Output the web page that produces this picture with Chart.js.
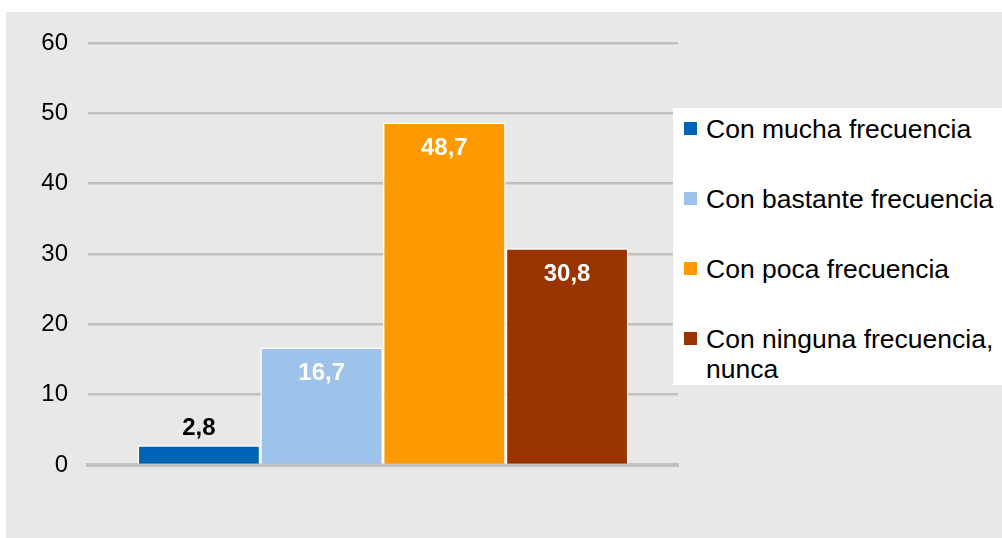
<!DOCTYPE html>
<html>
<head>
<meta charset="utf-8">
<script src="https://cdn.jsdelivr.net/npm/chart.js@4"></script>
<style>
    body { margin: 0; background: #fff; font-family: "Liberation Sans", Arial, sans-serif; }
    #wrap { position: relative; width: 1002px; height: 538px; overflow: hidden; }
    #bg { position: absolute; left: 6px; top: 12px; right: 0; bottom: 0; background: #e8e8e8; }
    #chart { position: absolute; left: 0; top: 0; }
    #legend { position: absolute; left: 673px; top: 108px; width: 329px; height: 277px; background: #fff; padding-top: 6px; box-sizing: border-box; }
    .item { position: relative; padding-left: 33px; font-size: 26.5px; line-height: 30px; color: #000; margin-bottom: 40px; width: 294px; }
    .item span { position: absolute; left: 11px; top: 8px; width: 13px; height: 13px; }
</style>
</head>
<body>
<div id="wrap">
    <div id="bg"></div>
    <canvas id="chart" width="1002" height="538"></canvas>
    <div id="legend"></div>
</div>
<script>
const seriesNames = ['Con mucha frecuencia', 'Con bastante frecuencia', 'Con poca frecuencia', 'Con ninguna frecuencia, nunca'];
const seriesValues = [2.8, 16.7, 48.7, 30.8];
const seriesColors = ['#0063b5', '#9dc3ea', '#ff9900', '#993300'];
const yTicks = [0, 10, 20, 30, 40, 50, 60];

// etiquetas de valor con coma decimal
const valueLabels = {
    id: 'valueLabels',
    afterDatasetsDraw(chart) {
        const ctx = chart.ctx;
        ctx.save();
        ctx.font = 'bold 24px "Liberation Sans", Arial, sans-serif';
        ctx.textAlign = 'center';
        ctx.textBaseline = 'middle';
        chart.data.datasets.forEach((ds, i) => {
            const bar = chart.getDatasetMeta(i).data[0];
            const txt = ds.data[0].toFixed(1).replace('.', ',');
            if (ds.data[0] < 10) {
                ctx.fillStyle = '#000';
                ctx.fillText(txt, bar.x, bar.y - 17);
            } else {
                ctx.fillStyle = '#fff';
                ctx.fillText(txt, bar.x, bar.y + 26);
            }
        });
        ctx.restore();
    }
};

const datasets = seriesNames.map((name, i) => {
    return {
        label: name,
        data: [seriesValues[i]],
        backgroundColor: seriesColors[i],
        borderColor: '#fff',
        borderWidth: 1.5,
        borderSkipped: 'bottom'
    };
});

new Chart(document.getElementById('chart'), {
    type: 'bar',
    data: { labels: [''], datasets: datasets },
    options: {
        responsive: false,
        animation: false,
        devicePixelRatio: 1,
        categoryPercentage: 0.832,
        barPercentage: 1,
        layout: { padding: { left: 0, right: 324, top: 43, bottom: 73 } },
        plugins: {
            legend: { display: false },
            tooltip: { enabled: false }
        },
        scales: {
            x: {
                z: 1,
                grid: { display: false },
                ticks: { display: false },
                border: { color: '#c0c0c0', width: 4 },
                afterFit(scale) { scale.height = 0; }
            },
            y: {
                min: 0,
                max: 60,
                afterBuildTicks(scale) { scale.ticks = yTicks.map(v => ({ value: v })); },
                grid: { color: '#c0c0c0', lineWidth: 2.5, drawTicks: false },
                border: { display: false },
                ticks: {
                    padding: 20,
                    color: '#000',
                    font: { family: '"Liberation Sans", Arial, sans-serif', size: 24 }
                },
                afterFit(scale) { scale.width = 88; }
            }
        }
    },
    plugins: [valueLabels]
});

const legend = document.getElementById('legend');
seriesNames.forEach((name, i) => {
    const item = document.createElement('div');
    item.className = 'item';
    item.innerHTML = '<span style="background:' + seriesColors[i] + '"></span>' + name;
    legend.appendChild(item);
});
</script>
</body>
</html>
